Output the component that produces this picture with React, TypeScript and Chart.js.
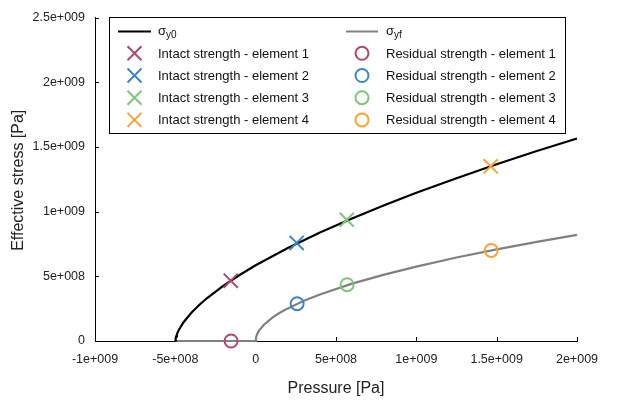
import React, { useEffect, useRef } from 'react';
import { Chart, registerables } from 'chart.js';

Chart.register(...registerables);

// ---- data ----
const yieldPressure = [-5e8, -4.98e8, -4.95e8, -4.9e8, -4.8e8, -4.5e8, -4e8, -3.5e8, -3e8, -2e8, -1e8, 0, 2e8, 4e8, 6e8, 8e8, 1e9, 1.25e9, 1.5e9, 1.75e9, 2e9];
const yieldStress = [0, 0.020e9, 0.035e9, 0.053e9, 0.082e9, 0.143e9, 0.218e9, 0.280e9, 0.334e9, 0.428e9, 0.510e9, 0.585e9, 0.718e9, 0.838e9, 0.947e9, 1.049e9, 1.145e9, 1.258e9, 1.366e9, 1.468e9, 1.565e9];

const failPressure = [-5e8, 0, 0.002e9, 0.005e9, 0.01e9, 0.02e9, 0.05e9, 0.1e9, 0.15e9, 0.2e9, 0.3e9, 0.4e9, 0.6e9, 0.8e9, 1.0e9, 1.25e9, 1.5e9, 1.75e9, 2.0e9];
const failStress = [0, 0, 0.024e9, 0.038e9, 0.054e9, 0.078e9, 0.124e9, 0.177e9, 0.218e9, 0.252e9, 0.311e9, 0.360e9, 0.443e9, 0.513e9, 0.575e9, 0.645e9, 0.708e9, 0.766e9, 0.820e9];

const intactPressure = [-1.55e8, 2.55e8, 5.67e8, 1.463e9];
const intactStress = [4.66e8, 7.58e8, 9.37e8, 1.35e9];
const residualPressure = [-1.53e8, 2.58e8, 5.69e8, 1.466e9];
const residualStress = [0, 2.88e8, 4.35e8, 7.0e8];

const elementNames = ['element 1', 'element 2', 'element 3', 'element 4'];
const elementColors = ['#b0486a', '#3b86c6', '#7ec47b', '#f9a232'];

const xTicks = [-1e9, -5e8, 0, 5e8, 1e9, 1.5e9, 2e9];
const yTicks = [0, 5e8, 1e9, 1.5e9, 2e9, 2.5e9];

const xTitle = 'Pressure [Pa]';
const yTitle = 'Effective stress [Pa]';

const FONT = "Arial, 'Liberation Sans', sans-serif";

function fmt(v: number): string {
  if (v === 0) return '0';
  const sign = v < 0 ? '-' : '';
  const a = Math.abs(v);
  const e = Math.floor(Math.log10(a) + 1e-9);
  const m = +(a / Math.pow(10, e)).toFixed(3);
  return `${sign}${m}e+${String(e).padStart(3, '0')}`;
}

const decorPlugin = {
  id: 'decor',
  beforeDatasetsDraw(chart: any) {
    const ctx = chart.ctx;
    const xs = chart.scales.x;
    const ys = chart.scales.y;
    const ca = chart.chartArea;
    ctx.save();
    ctx.strokeStyle = '#000';
    ctx.lineWidth = 1;
    ctx.beginPath();
    xTicks.forEach((v) => {
      const px = Math.round(xs.getPixelForValue(v)) + 0.5;
      ctx.moveTo(px, ca.bottom);
      ctx.lineTo(px, ca.bottom - 4);
    });
    yTicks.forEach((v) => {
      const py = Math.round(ys.getPixelForValue(v)) + 0.5;
      ctx.moveTo(ca.left, py);
      ctx.lineTo(ca.left + 4, py);
    });
    ctx.stroke();
    ctx.restore();
  },
  afterDraw(chart: any) {
    const ctx = chart.ctx;
    const ca = chart.chartArea;
    ctx.save();
    // axis titles
    ctx.fillStyle = '#222';
    ctx.font = `16px ${FONT}`;
    ctx.textAlign = 'center';
    ctx.textBaseline = 'alphabetic';
    ctx.fillText(xTitle, (ca.left + ca.right) / 2, 393);
    ctx.save();
    ctx.translate(22.5, (ca.top + ca.bottom) / 2 + 1);
    ctx.rotate(-Math.PI / 2);
    ctx.fillText(yTitle, 0, 0);
    ctx.restore();

    // legend box
    const bx = 109.5, by = 17.5, bw = 456, bh = 116;
    ctx.fillStyle = '#fff';
    ctx.fillRect(bx, by, bw, bh);
    ctx.strokeStyle = '#000';
    ctx.lineWidth = 1;
    ctx.strokeRect(bx, by, bw, bh);

    const cols = [{ s0: 118, s1: 151, tx: 158 }, { s0: 346, s1: 378, tx: 386 }];
    const ds = chart.data.datasets;
    // line samples
    const lineSets = [ds[8], ds[9]];
    lineSets.forEach((d: any, c: number) => {
      const col = cols[c];
      ctx.strokeStyle = d.borderColor;
      ctx.lineWidth = 2;
      ctx.beginPath();
      ctx.moveTo(col.s0, 31.5);
      ctx.lineTo(col.s1, 31.5);
      ctx.stroke();
      ctx.fillStyle = '#111';
      ctx.textAlign = 'left';
      ctx.textBaseline = 'alphabetic';
      ctx.font = `13px ${FONT}`;
      ctx.fillText('σ', col.tx, 35);
      const w = ctx.measureText('σ').width;
      ctx.font = `10px ${FONT}`;
      ctx.fillText(d.subLabel, col.tx + w, 37.5);
    });
    // marker entries
    for (let i = 0; i < 4; i++) {
      const base = 57.8 + i * 22.2;
      const cy = base - 4.5;
      // intact (cross)
      const di: any = ds[i];
      ctx.strokeStyle = di.borderColor;
      ctx.lineWidth = 2;
      const cx1 = (cols[0].s0 + cols[0].s1) / 2;
      const o = 7;
      ctx.beginPath();
      ctx.moveTo(cx1 - o, cy - o);
      ctx.lineTo(cx1 + o, cy + o);
      ctx.moveTo(cx1 - o, cy + o);
      ctx.lineTo(cx1 + o, cy - o);
      ctx.stroke();
      // residual (circle)
      const dr: any = ds[4 + i];
      ctx.strokeStyle = dr.borderColor;
      const cx2 = (cols[1].s0 + cols[1].s1) / 2;
      ctx.beginPath();
      ctx.arc(cx2, cy, 6.5, 0, Math.PI * 2);
      ctx.stroke();

      ctx.fillStyle = '#111';
      ctx.font = `13px ${FONT}`;
      ctx.textAlign = 'left';
      ctx.textBaseline = 'alphabetic';
      ctx.fillText(di.label, cols[0].tx, base);
      ctx.fillText(dr.label, cols[1].tx, base);
    }
    ctx.restore();
  },
};

export default function App() {
  const ref = useRef<HTMLCanvasElement | null>(null);

  useEffect(() => {
    document.body.style.margin = '0';
    const canvas = ref.current;
    if (!canvas) return;

    const intactSets = intactPressure.map((p, i) => ({
      label: `Intact strength - ${elementNames[i]}`,
      data: [{ x: p, y: intactStress[i] }],
      showLine: false,
      pointStyle: 'crossRot',
      pointRadius: 10,
      pointHoverRadius: 10,
      borderColor: elementColors[i],
      backgroundColor: elementColors[i],
      pointBorderWidth: 2,
      borderWidth: 2,
      clip: false,
      order: 0,
    }));
    const residualSets = residualPressure.map((p, i) => ({
      label: `Residual strength - ${elementNames[i]}`,
      data: [{ x: p, y: residualStress[i] }],
      showLine: false,
      pointStyle: 'circle',
      pointRadius: 6.5,
      pointHoverRadius: 6.5,
      borderColor: elementColors[i],
      backgroundColor: 'rgba(0,0,0,0)',
      pointBorderWidth: 2,
      borderWidth: 2,
      clip: false,
      order: 0,
    }));

    const chart = new Chart(canvas, {
      type: 'scatter',
      data: {
        datasets: [
          ...intactSets,
          ...residualSets,
          {
            label: 'σy0',
            subLabel: 'y0',
            data: yieldPressure.map((x, i) => ({ x, y: yieldStress[i] })),
            showLine: true,
            borderColor: '#000',
            backgroundColor: '#000',
            borderWidth: 2.2,
            pointRadius: 0,
            tension: 0,
            clip: false,
            order: 1,
          } as any,
          {
            label: 'σyf',
            subLabel: 'yf',
            data: failPressure.map((x, i) => ({ x, y: failStress[i] })),
            showLine: true,
            borderColor: '#808080',
            backgroundColor: '#808080',
            borderWidth: 2.2,
            pointRadius: 0,
            tension: 0,
            clip: false,
            order: 1,
          } as any,
        ],
      },
      options: {
        responsive: false,
        animation: false,
        devicePixelRatio: 1,
        layout: { padding: { top: 13, right: 58, left: 0, bottom: 0 } },
        plugins: {
          legend: { display: false },
          tooltip: { enabled: false },
          title: { display: false },
        },
        scales: {
          x: {
            type: 'linear',
            min: -1e9,
            max: 2e9,
            afterBuildTicks: (s: any) => {
              s.ticks = xTicks.map((v) => ({ value: v }));
            },
            afterFit: (s: any) => {
              s.height = 69;
            },
            grid: { display: false, drawTicks: false, tickLength: 0 },
            border: { display: true, color: '#000', width: 1 },
            ticks: {
              callback: (v: any) => fmt(Number(v)),
              font: { family: FONT, size: 12.5 },
              color: '#222',
              padding: 11,
              maxRotation: 0,
              autoSkip: false,
            },
          },
          y: {
            type: 'linear',
            min: 0,
            max: 2.5e9,
            afterBuildTicks: (s: any) => {
              s.ticks = yTicks.map((v) => ({ value: v }));
            },
            afterFit: (s: any) => {
              s.width = 95;
            },
            grid: { display: false, drawTicks: false, tickLength: 0 },
            border: { display: true, color: '#000', width: 1 },
            ticks: {
              callback: (v: any) => fmt(Number(v)),
              font: { family: FONT, size: 12.5 },
              color: '#222',
              padding: 10,
              autoSkip: false,
            },
          },
        },
      } as any,
      plugins: [decorPlugin],
    });

    return () => {
      chart.destroy();
    };
  }, []);

  return (
    <canvas
      ref={ref}
      width={635}
      height={410}
      style={{ display: 'block', width: 635, height: 410 }}
    />
  );
}
